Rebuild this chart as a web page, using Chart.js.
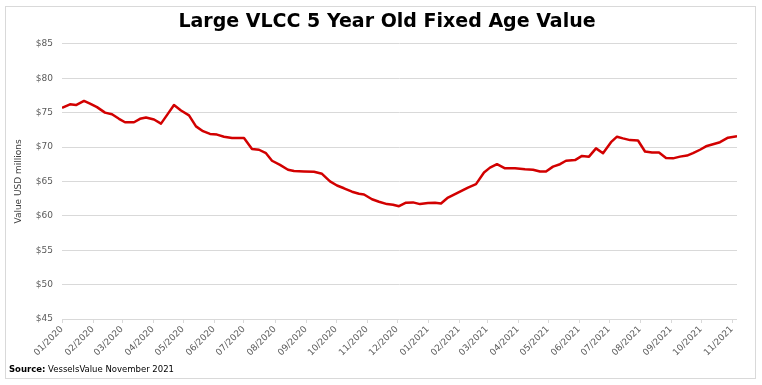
<!DOCTYPE html>
<html><head><meta charset="utf-8">
<script src="https://cdn.jsdelivr.net/npm/chart.js@4/dist/chart.umd.min.js"></script>
<style>
html,body{margin:0;padding:0;background:#fff;}
#wrap{position:relative;width:762px;height:385px;}
#frame{position:absolute;left:5px;top:6px;width:751px;height:373px;border:1px solid #d9d9d9;box-sizing:border-box;pointer-events:none;}
#src{position:absolute;left:9px;top:364px;font:8.5px 'DejaVu Sans',sans-serif;color:#000;white-space:nowrap;}
canvas{display:block;}
</style></head>
<body><div id="wrap"><canvas id="c" width="762" height="385"></canvas><div id="frame"></div><div id="src"><b>Source:</b> VesselsValue November 2021</div></div>
<script>
// days since 2020-01-01
const dayOffsets = [0,8,14,22,28,35,43,50,57,63,72,78,84,92,99,106,112,119,127,134,141,148,155,162,170,177,182,190,197,204,210,218,226,232,242,252,260,268,275,282,290,297,302,310,317,325,331,337,344,351,358,366,373,379,386,393,399,406,414,422,428,435,443,453,463,471,478,484,491,498,504,513,520,527,534,541,549,555,561,568,576,583,590,597,604,611,618,625,631,638,644,651,658,666,675];
const values = [75.7,76.2,76.1,76.7,76.3,75.8,75.0,74.75,74.1,73.6,73.6,74.1,74.3,74.0,73.4,74.85,76.1,75.3,74.6,73.0,72.3,71.9,71.8,71.5,71.3,71.3,71.3,69.7,69.6,69.1,68.0,67.4,66.7,66.5,66.45,66.4,66.1,65.0,64.4,64.0,63.5,63.2,63.1,62.4,62.05,61.7,61.6,61.4,61.9,61.95,61.7,61.85,61.9,61.8,62.65,63.15,63.6,64.1,64.6,66.3,67.0,67.5,66.9,66.9,66.75,66.7,66.45,66.45,67.15,67.5,68.0,68.1,68.7,68.6,69.8,69.1,70.7,71.5,71.25,71.0,70.95,69.35,69.2,69.2,68.4,68.35,68.6,68.75,69.1,69.6,70.1,70.4,70.7,71.35,71.55];
const monthTickDays = [0,31,60,91,121,152,182,213,244,274,305,335,366,397,425,456,486,517,547,578,609,639,670];
const monthTickLabels = ['01/2020','02/2020','03/2020','04/2020','05/2020','06/2020','07/2020','08/2020','09/2020','10/2020','11/2020','12/2020','01/2021','02/2021','03/2021','04/2021','05/2021','06/2021','07/2021','08/2021','09/2021','10/2021','11/2021'];
const yTicks = [45,50,55,60,65,70,75,80,85];

const tickFont = {family:"'DejaVu Sans', sans-serif", size:9};
// shift the title's horizontal span so it is centred like the original
const titleShift = {
  id:'titleShift',
  afterLayout(chart){ const t = chart.titleBlock; if (t) { t.left = 37; } }
};
new Chart(document.getElementById('c'), {
  type:'line',
  data:{datasets:[{
    data: dayOffsets.map((d,i)=>({x:d,y:values[i]})),
    borderColor:'#d20000', borderWidth:2.5, pointRadius:0, tension:0, fill:false,
    borderJoinStyle:'round'
  }]},
  plugins:[titleShift],
  options:{
    responsive:false, animation:false, devicePixelRatio:1,
    layout:{padding:{left:0,right:25,top:0,bottom:21}},
    plugins:{
      legend:{display:false}, tooltip:{enabled:false},
      title:{display:true, text:'Large VLCC 5 Year Old Fixed Age Value', color:'#000',
        font:{family:"'DejaVu Sans', sans-serif", size:19, weight:'bold'},
        padding:{top:11,bottom:10}}
    },
    scales:{
      x:{type:'linear', min:0, max:675,
        afterBuildTicks:s=>{s.ticks = monthTickDays.map(v=>({value:v}));},
        ticks:{autoSkip:false, minRotation:45, maxRotation:45, color:'#595959', font:tickFont, padding:1,
          callback:v=>{const i = monthTickDays.indexOf(v); return i>=0 ? monthTickLabels[i] : '';}},
        grid:{drawOnChartArea:false, drawTicks:true, tickLength:4, color:'#d9d9d9'},
        border:{display:false},
        afterFit:s=>{s.height=45;}
      },
      y:{min:45, max:85,
        afterBuildTicks:s=>{s.ticks = yTicks.map(v=>({value:v}));},
        ticks:{color:'#595959', font:tickFont, padding:9, callback:v=>'$'+v},
        grid:{color:'#d9d9d9', drawTicks:false},
        border:{display:false},
        title:{display:true, text:'Value USD millions', color:'#404040', font:tickFont, padding:{top:13,bottom:0}},
        afterFit:s=>{s.width=62;}
      }
    }
  }
});
</script>
</body></html>
